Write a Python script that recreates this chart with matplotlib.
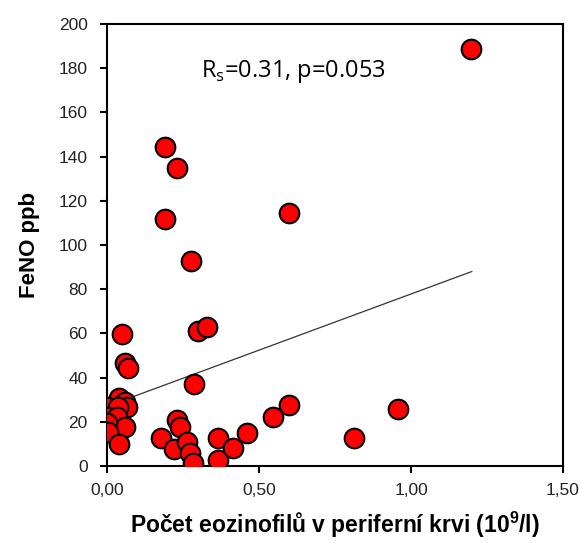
import matplotlib
matplotlib.use("Agg")
from matplotlib import pyplot as plt

# eosinophil count (10^9/l) and FeNO (ppb)
eos = [1.197, 0.191, 0.229, 0.191, 0.278, 0.60,
       0.048, 0.059, 0.07, 0.30, 0.33, 0.286,
       0.04, 0.059, 0.065, 0.0, 0.037, 0.005, 0.032, 0.059, 0.0, 0.005, 0.04,
       0.229, 0.24, 0.178, 0.22, 0.262, 0.273, 0.282,
       0.366, 0.366, 0.416, 0.46, 0.547, 0.60, 0.814, 0.958]
feno = [188.5, 144.5, 134.7, 111.6, 92.9, 114.3,
        59.7, 46.8, 44.2, 61.2, 62.8, 37.1,
        30.6, 29.0, 26.8, 26.8, 26.8, 22.3, 22.3, 17.8, 19.3, 15.5, 10.0,
        20.8, 17.8, 12.5, 7.7, 11.0, 5.7, 1.2,
        12.5, 2.7, 8.0, 14.8, 22.0, 27.6, 12.5, 25.8]

# trendline end points
trend_x = [0.0, 1.2]
trend_y = [27.0, 88.0]

xticks = [0.0, 0.5, 1.0, 1.5]
xtick_labels = ['0,00', '0,50', '1,00', '1,50']
yticks = [0, 20, 40, 60, 80, 100, 120, 140, 160, 180, 200]

fig = plt.figure(figsize=(5.82, 5.43), dpi=100)
ax = fig.add_axes([0.1838, 0.1418, 0.7836, 0.814])

ax.plot(trend_x, trend_y, color='#333333', lw=0.9, zorder=2)
ax.scatter(eos, feno, s=200, c='#ff0000', edgecolors='black', linewidths=1.5, zorder=3)

ax.set_xlim(0, 1.5)
ax.set_ylim(0, 200)
ax.set_xticks(xticks)
ax.set_xticklabels(xtick_labels)
ax.set_yticks(yticks)

for sp in ax.spines.values():
    sp.set_linewidth(1.5)
ax.tick_params(direction='out', length=5, width=1.5, labelsize=12.5, colors='black',
               labelcolor='#222222')
ax.tick_params(axis='x', pad=7)
ax.tick_params(axis='y', pad=9)
for lbl in ax.get_xticklabels() + ax.get_yticklabels():
    lbl.set_family('Liberation Sans')

ax.set_xlabel('Počet eozinofilů v periferní krvi (10$^\\mathregular{9}$/l)', fontsize=16.5,
              fontweight='bold', labelpad=9, family='Liberation Sans')
ax.set_ylabel('FeNO ppb', fontsize=16, fontweight='bold', labelpad=13,
              family='Liberation Sans')

ax.text(0.309, 178.7, 'R$_\\mathregular{s}$=0.31, p=0.053', fontsize=17,
        family='Open Sans', ha='left', va='center')

fig.savefig('out.png', dpi=100)
